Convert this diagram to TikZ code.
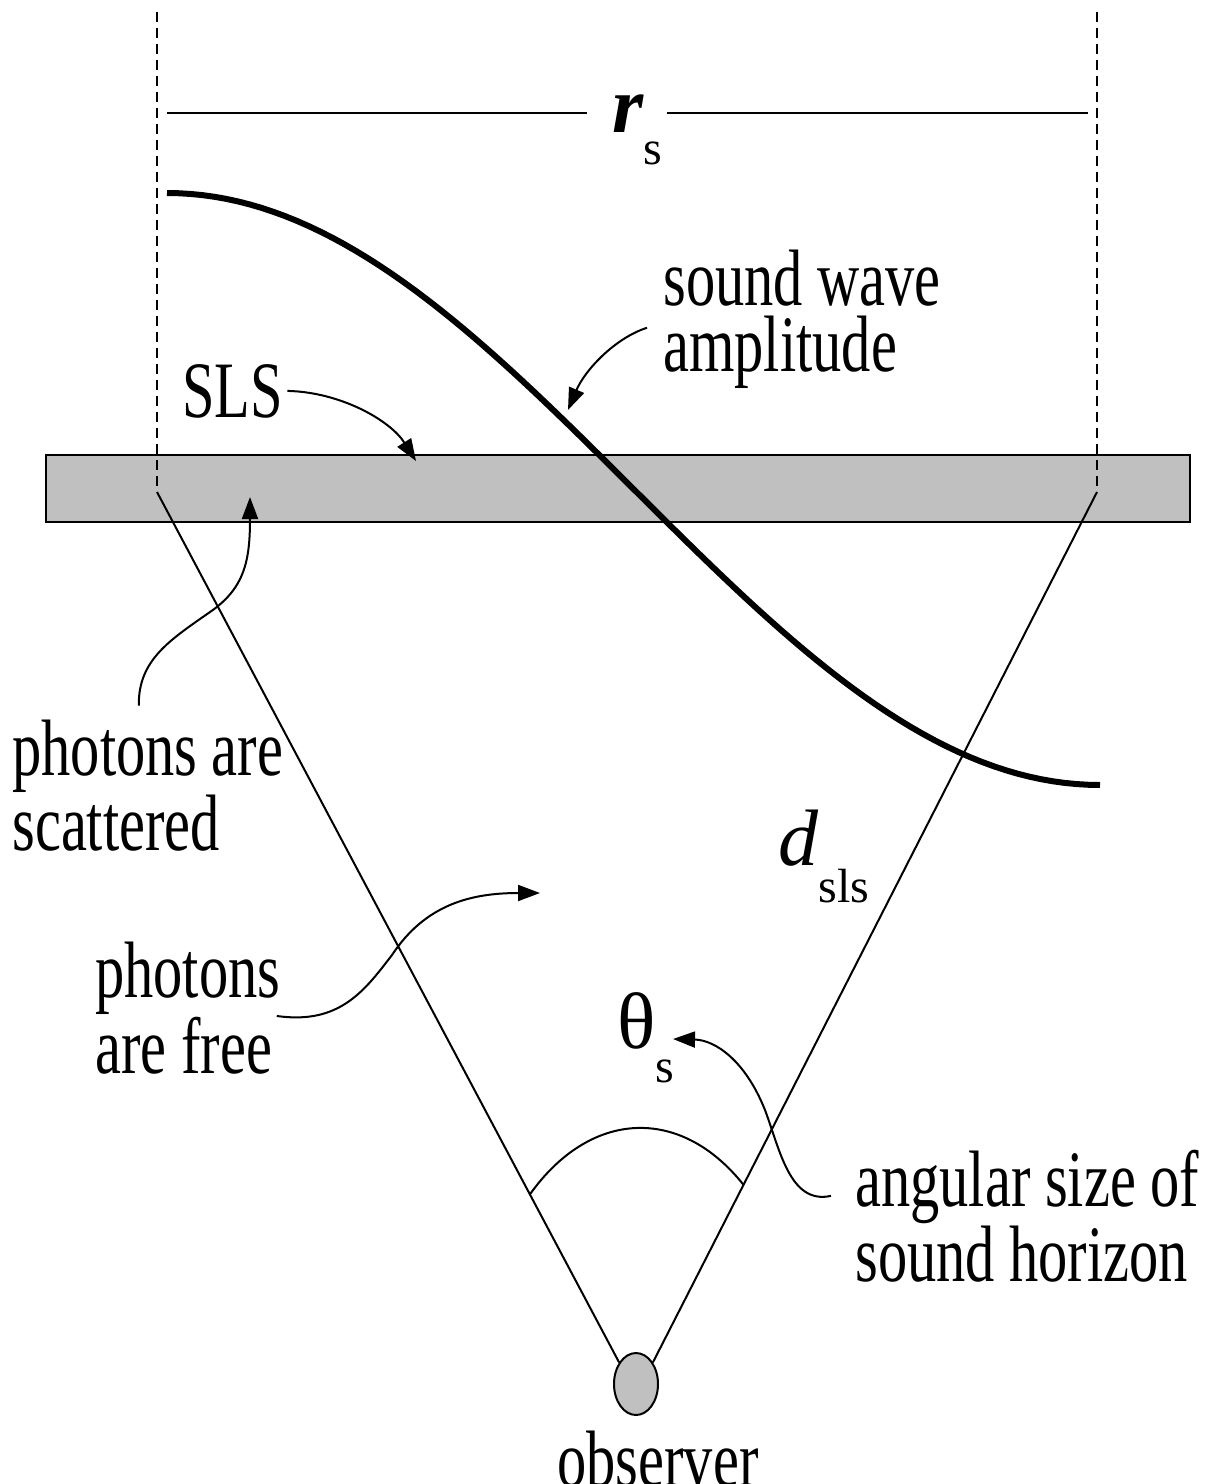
\documentclass[tikz,border=0pt]{standalone}
\usepackage{fontspec}
\setmainfont{Liberation Serif}[FakeStretch=0.73]
\newfontfamily\symfont{Liberation Serif}
\usetikzlibrary{arrows.meta,shapes.geometric}
\definecolor{slsgray}{RGB}{192,192,192}
\newcommand{\subtext}[2]{\raisebox{-#1}{\symfont\fontsize{24}{24}\selectfont #2}}

\begin{document}
\begin{tikzpicture}[
        x=0.5pt, y=-0.5pt,
        every node/.style={
            font=\fontsize{40}{33}\selectfont,
            inner sep=0pt
        },
        thinline/.style={line width=1pt},
        dashline/.style={line width=0.8pt, dash pattern=on 5pt off 3pt},
        wave/.style={line width=3pt},
        pointer/.style={line width=1pt, -{Triangle[length=11pt,width=8pt]}},
        label/.style={anchor=base west, align=left}
    ]
    \useasboundingbox (0,0) rectangle (1214,1484);

    % SLS bar
    \draw[line width=0.6pt, fill=slsgray] (46,455) rectangle (1190,522);

    % sound horizon edges
    \coordinate (sl) at (157,492);
    \coordinate (sr) at (1097,492);
    \draw[dashline] (157,12) -- (sl);
    \draw[dashline] (1097,12) -- (sr);

    % r_s
    \node[anchor=base west] (rs) at (612,132) {{\symfont\bfseries\itshape r}\subtext{16pt}{s}};
    \draw[thinline] (167,113) -- (587,113);
    \draw[thinline] (667,113) -- (1088,113);

    % sound wave
    \draw[wave] plot[domain=167:1100, samples=80] (\x, {489-296*cos(0.192926*(\x-167))});

    % observer and cone
    \node[ellipse, draw, thinline, fill=slsgray, minimum width=22pt, minimum height=31pt] (obs) at (636,1384) {};
    \node[anchor=base] (obslabel) at (658,1486) {observer};
    \draw[thinline] (sl) -- (obs.128) coordinate[pos=0.807] (ta);
    \draw[thinline] (sr) -- (obs.52) coordinate[pos=0.796] (tb);
    \draw[thinline] (ta) .. controls (590,1110) and (680,1105) .. (tb);

    % labels (base = last line)
    \node[label] (swa) at (663,371) {sound wave\\amplitude};
    \node[label] (slslabel) at (182,417) {SLS};
    \node[label] (scat) at (12,850) {photons are\\scattered};
    \node[label] (free) at (95,1073) {photons\\are free};
    \node[label] (ang) at (855,1281) {angular size of\\sound horizon};
    \node[anchor=base west] (dsls) at (778,865) {{\symfont\itshape d}\subtext{18.5pt}{sls}};
    \node[anchor=base west] (thetas) at (617,1048) {{\symfont θ}\subtext{17pt}{s}};
    \coordinate (thetatip) at (673,1039);

    % pointers
    \draw[pointer] ([xshift=-8pt,yshift=-4.5pt]swa.west) .. controls (615,338) and (585,370) .. (568,410);
    \draw[pointer] ([xshift=2pt]slslabel.east) .. controls (340,392) and (390,420) .. (416,461);
    \draw[pointer] ([xshift=-4.5pt,yshift=7pt]scat.north) .. controls (138,660) and (170,640) .. (210,612)
        .. controls (245,588) and (250,560) .. (250,497);
    \draw[pointer] ([xshift=-2pt,yshift=-4pt]free.east) .. controls (340,1025) and (365,990) .. (392,955)
        .. controls (425,905) and (470,893) .. (540,893);
    \draw[pointer] ([xshift=-12pt,yshift=10pt]ang.west) .. controls (790,1205) and (780,1150) .. (765,1110)
        .. controls (745,1060) and (715,1040) .. (thetatip);
\end{tikzpicture}
\end{document}
